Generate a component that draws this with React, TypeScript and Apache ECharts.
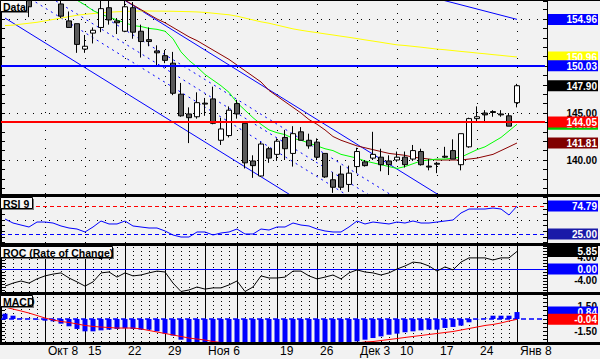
import React, { useEffect, useRef } from 'react';
import * as echarts from 'echarts';

// ---------- DATA ----------
const dates = ['10-01','10-02','10-03','10-04','10-05','10-08','10-09','10-10','10-11','10-12','10-15','10-16','10-17','10-18','10-19','10-22','10-23','10-24','10-25','10-26','10-29','10-30','10-31','11-01','11-02','11-06','11-07','11-08','11-09','11-12','11-13','11-14','11-15','11-16','11-19','11-20','11-21','11-22','11-23','11-26','11-27','11-28','11-29','11-30','12-03','12-04','12-05','12-06','12-07','12-10','12-11','12-12','12-13','12-14','12-17','12-18','12-19','12-20','12-21','12-24','12-25','12-26','12-27','12-28','01-08'];
const padCats = ['p1', 'p2', 'p3'];

const open = [157.4,158.2,158.9,158.3,157.6,158.4,159.1,156.6,154.8,154.5, 151.8,153.5,154.1,156.2,154.8,153.7,156.2,153.7,152.8,151.6, 151.1,150.3,147.0,144.9,144.6,146.05,146.5,142.1,142.6,146.0, 143.9,139.9,138.3,141.2,140.6,142.4,140.7,143.0,142.1,141.9, 140.7,137.9,138.5,137.4,139.3,139.8,140.2,140.3,139.9,140.0, 140.3,140.1,140.9,139.35,139.65,140.4,141.0,139.5,141.4,144.4, 145.0,145.15,144.9,144.7,146.1];
const close = [158.2,158.9,158.4,156.3,158.4,159.2,157.9,155.3,154.1,152.3, 152.1,153.8,156.1,154.9,154.6,156.3,153.6,152.6,152.6,151.4, 150.6,147.1,144.7,144.5,146.1,145.95,143.9,143.3,145.3,144.9, 139.7,139.4,141.7,140.2,142.0,141.2,142.8,142.1,141.5,140.3, 138.2,137.1,137.1,138.6,140.9,139.4,140.6,139.5,139.5,140.3, 139.5,141.0,139.5,139.25,139.55,140.3,140.1,142.8,144.4,144.6, 144.8,145.05,144.8,143.6,147.9];
const low = [157.1,157.8,157.9,155.2,157.2,158.0,157.4,155.1,154.1,151.4, 151.4,152.4,153.6,154.4,153.4,153.6,152.9,150.9,152.1,150.1, 150.3,146.9,144.6,141.8,144.4,144.7,143.8,141.6,142.4,144.4, 139.1,138.1,138.2,139.7,139.9,140.0,139.3,142.1,141.2,140.0, 138.1,136.5,136.8,136.6,138.6,139.3,140.0,138.8,138.4,139.8, 139.2,139.9,139.4,138.9,138.6,140.2,140.1,138.9,141.3,144.1, 144.0,144.6,144.6,143.6,145.6];
const high = [158.8,159.4,159.6,158.6,158.9,159.8,159.5,157.3,155.8,154.5, 153.3,154.1,157.2,157.3,155.1,157.3,156.8,154.4,154.1,152.2, 151.7,151.5,148.2,145.6,147.2,146.6,147.8,144.5,145.7,146.4, 143.9,140.5,141.9,141.4,142.3,143.2,143.6,143.5,142.8,142.3, 140.7,138.7,139.4,139.4,141.3,140.0,143.0,141.2,140.5,140.9, 140.9,141.6,141.2,140.1,139.8,141.4,142.2,142.8,144.5,145.7, 145.3,145.3,145.3,145.0,148.1];

const maYellow = [154.3,154.35,154.45,154.55,154.65,154.8,154.95,155.1,155.25,155.4, 155.5,155.58,155.65,155.72,155.77,155.8,155.83,155.85,155.85,155.84, 155.83,155.82,155.8,155.78,155.75,155.7,155.62,155.53,155.45,155.3, 155.1,154.9,154.7,154.55,154.35,154.15,153.95,153.8,153.67,153.55, 153.42,153.3,153.17,153.05,152.92,152.78,152.65,152.52,152.38,152.25, 152.18,152.09,152.0,151.9,151.8,151.73,151.64,151.55,151.47,151.38, 151.3,151.21,151.13,151.04,150.96];
const maGreen = [null,null,null,null,null,null,null,null,157.5,157.0, 156.5,155.9,155.5,155.2,154.9,154.6,154.3,154.2,154.0,153.9, 153.7,152.9,151.5,150.6,149.9,149.1,148.5,147.9,147.2,146.1, 145.3,144.5,143.8,143.2,142.9,142.7,142.3,142.1,141.8,141.5, 141.2,141.0,140.6,140.4,140.2,139.9,139.7,139.5,139.3,139.1, 139.3,139.6,139.9,140.0,140.1,140.1,140.2,140.3,140.7,141.1, 141.4,141.9,142.4,143.1,143.8];
const maRed = [null,null,null,null,null,null,null,null,null,null, null,null,null,157.9,157.5,157.0,156.5,156.0,155.5,155.0, 154.6,154.1,153.6,153.1,152.7,152.2,151.7,151.2,150.7,150.1, 149.5,148.9,148.3,147.4,146.8,146.2,145.6,145.0,144.3,143.8, 143.2,142.5,142.1,141.8,141.5,141.3,141.1,140.9,140.7,140.6, 140.5,140.3,140.2,140.1,140.0,140.0,140.0,140.0,140.1,140.2, 140.4,140.6,141.0,141.4,141.81];

// regression channel (endpoints in [index, price]) and inner dashed fractions
const channelUpper = [[0, 164.88], [64, 131.12]];
const channelLower = [[0, 155.10], [64, 121.33]];
const channelInner = [0.32, 0.47, 0.62];
const longLine = [[50, 158.05], [64, 154.96]];
const hLineBlue = 150.03;
const hLineRed = 144.05;
const priceRows = [155, 150, 145, 140];

const rsi = [51.8,44.6,41.0,37.5,46.4,46.4,44.6,39.3,35.7,33.9, 28.6,37.5,48.2,42.9,42.9,48.2,39.3,37.5,35.7,35.7, 30.4,23.2,19.6,19.6,28.6,28.6,23.2,26.8,28.6,33.9, 25.0,25.0,33.9,32.1,37.5,37.5,44.6,41.0,39.3,33.9, 30.4,28.6,28.6,37.5,48.2,42.9,46.4,44.6,42.9,46.4, 44.6,48.2,44.6,44.6,46.4,48.2,50.0,62.5,69.6,69.6, 69.6,71.4,69.6,58.9,74.79];
const rsiHigh = 75, rsiLow = 25, rsiMid = 50;

const roc = [-5.7,-4.7,-4.0,-4.7,-3.3,-2.3,-1.7,-1.3,-3.0,-4.3, -5.7,-4.3,-1.3,-1.0,-2.7,-1.3,-2.3,-2.0,-1.3,-0.7, -1.0,-4.7,-7.5,-7.0,-6.0,-6.7,-6.3,-6.3,-5.3,-4.0, -7.5,-6.0,-2.3,-3.0,-3.0,-2.7,-0.7,-0.7,-2.3,-3.3, -2.7,-2.0,-3.3,-1.3,-0.3,-1.0,-1.3,-2.0,-1.3,0.0, 1.0,2.3,2.0,1.0,-0.7,0.7,-0.3,2.3,3.7,3.7, 3.7,3.0,3.7,3.7,5.85];

const macdHist = [0.64,0.4,0.05,0.02,-0.05,-0.2,-0.28,-0.56,-0.88,-1.2, -1.49,-1.49,-1.37,-1.29,-1.2,-1.12,-1.2,-1.29,-1.29,-1.49, -1.77,-2.0,-2.5,-3.1,-3.3,-3.5,-3.6,-3.7,-3.8,-3.9, -4.0,-4.0,-3.9,-3.9,-3.8,-3.7,-3.6,-3.5,-3.4,-3.3, -3.2,-3.1,-3.0,-3.0,-2.7,-2.5,-2.3,-2.1,-1.9,-1.77, -1.6,-1.49,-1.37,-1.29,-1.29,-1.08,-0.96,-0.8,-0.4,-0.04, 0.04,0.4,0.4,0.4,0.84];
const macdLine = [1.45,1.2,0.97,0.72,0.42,0.12,-0.12,-0.3,-0.42,-0.6, -0.78,-0.9,-0.97,-1.03,-1.09,-1.09,-1.09,-1.2,-1.39,-1.57, -1.75,-1.93,-2.11,-2.3,-2.42,-2.54,-2.72,-2.84,-2.9,-3.0, -3.1,-3.2,-3.3,-3.35,-3.4,-3.4,-3.4,-3.35,-3.3,-3.25, -3.15,-3.1,-3.0,-2.95,-2.9,-2.78,-2.72,-2.6,-2.48,-2.36, -2.23,-2.11,-1.99,-1.87,-1.75,-1.63,-1.51,-1.33,-1.15,-0.97, -0.78,-0.66,-0.48,-0.24,-0.04];

const tickIdx = [5, 10, 15, 20, 25, 34, 39, 44, 49, 54, 59, 64];
const tickText = ['Окт 8', '15', '22', '29', 'Ноя 6', '19', '26', 'Дек 3', '10', '17', '24', 'Янв 8'];
const weekIdx = [5, 10, 15, 20, 25, 29, 34, 39, 44, 49, 54, 59, 64];

const plainMain = [155, 150, 145, 140];
const plainRoc = [4, 0, -4];
const plainMacd = [1.5, 0, -1.5];

// ---------- LAYOUT ----------
const gridLeft = 1;
const gridWidth = 544;
const gridTop = [1, 197, 246, 295];
const gridH = [193, 46, 46, 47];
const yRange = [[136.383, 156.915], [8.93, 91.07], [-7.667, 7.667], [-2.778, 2.899]];
const yStep = [1, 10, 1, 0.5];

const FONT = '"Liberation Sans", Arial, sans-serif';

function buildOption() {
  const cats = [...dates, ...padCats];
  const nulls = dates.map(() => null);
  const dayIdx = dates.map((_, i) => i).filter((i) => !weekIdx.includes(i));

  const xAxis = gridTop.map((_, k) => ({
    type: 'category',
    gridIndex: k,
    data: cats,
    boundaryGap: true,
    axisLine: { show: false },
    splitLine: { show: false },
    axisTick: k === 3 ? {
      show: true,
      alignWithLabel: true,
      interval: (i: number) => tickIdx.includes(i),
      length: 16,
      lineStyle: { color: '#000', width: 1 },
    } : { show: false },
    axisLabel: k === 3 ? {
      show: true,
      interval: (i: number) => tickIdx.includes(i),
      formatter: (_v: string, i: number) => {
        const p = tickIdx.indexOf(i);
        return p >= 0 ? tickText[p] : '';
      },
      align: 'left',
      padding: [0, 0, 0, 3],
      margin: 3,
      color: '#000',
      fontSize: 12,
      fontFamily: FONT,
    } : { show: false },
  }));

  const yAxis: any[] = [];
  ['right', 'left'].forEach((pos) => {
    gridTop.forEach((_, k) => {
      yAxis.push({
        type: 'value',
        gridIndex: k,
        position: pos,
        offset: pos === 'right' ? 2 : 0,
        min: yRange[k][0],
        max: yRange[k][1],
        minInterval: yStep[k],
        maxInterval: yStep[k],
        axisLine: { show: true, onZero: false, lineStyle: { color: '#000', width: 1 } },
        axisTick: { show: true, inside: true, length: 4, lineStyle: { color: '#000', width: 1 } },
        axisLabel: { show: false },
        splitLine: { show: false },
      });
    });
  });

  const ml = (data: any[], z = 1) => ({
    symbol: ['none', 'none'],
    silent: true,
    label: { show: false },
    emphasis: { disabled: true },
    data,
    z,
  });
  const vLines = (idx: number[], style: any) => idx.map((i) => ({ xAxis: i, lineStyle: style }));
  const hLines = (vals: number[], style: any) => vals.map((v) => ({ yAxis: v, lineStyle: style }));

  const dotV = { color: '#000', width: 1, type: [1, 8] };
  const dotH = { color: '#000', width: 1, type: [1, 7] };
  const solidV = { color: '#000', width: 1, type: 'solid' };
  const dayDot = { color: '#000', width: 1, type: [1, 3] };

  const lineS = (data: any[], color: string, xi: number, yi: number, z = 2, type: any = 'solid', width = 1) => ({
    type: 'line',
    xAxisIndex: xi,
    yAxisIndex: yi,
    data,
    showSymbol: false,
    symbol: 'none',
    silent: true,
    z,
    lineStyle: { color, width, type },
  });

  const inner = channelInner.map((f) => [
    [channelUpper[0][0], channelUpper[0][1] - f * (channelUpper[0][1] - channelLower[0][1])],
    [channelUpper[1][0], channelUpper[1][1] - f * (channelUpper[1][1] - channelLower[1][1])],
  ]);

  const series: any[] = [
    // main grid helpers
    {
      type: 'line', xAxisIndex: 0, yAxisIndex: 0, data: nulls, z: 1, silent: true,
      markLine: ml([...vLines(weekIdx, dotV), ...hLines(priceRows, dotH)]),
    },
    lineS(channelUpper, '#0000ff', 0, 0),
    lineS(channelLower, '#0000ff', 0, 0),
    ...inner.map((d) => lineS(d, '#0000ff', 0, 0, 2, [2, 4])),
    lineS(longLine, '#0000ff', 0, 0),
    lineS(maYellow, '#ffff00', 0, 0),
    lineS(maRed, '#8b0000', 0, 0),
    lineS(maGreen, '#00ff00', 0, 0),
    {
      type: 'candlestick', xAxisIndex: 0, yAxisIndex: 0, z: 3, silent: true,
      barWidth: 5,
      data: dates.map((_, i) => [open[i], close[i], low[i], high[i]]),
      itemStyle: { color: '#ffffff', color0: '#5a5a5a', borderColor: '#000000', borderColor0: '#000000', borderWidth: 1 },
    },
    {
      type: 'line', xAxisIndex: 0, yAxisIndex: 0, data: nulls, z: 4, silent: true,
      markLine: ml([
        { yAxis: hLineBlue, lineStyle: { color: '#0000ff', width: 2, type: 'solid' } },
        { yAxis: hLineRed, lineStyle: { color: '#ff0000', width: 2, type: 'solid' } },
      ], 4),
    },
    // RSI
    {
      type: 'line', xAxisIndex: 1, yAxisIndex: 1, data: nulls, z: 1, silent: true,
      markLine: ml([
        ...vLines(weekIdx, { color: '#000', width: 1, type: [1, 4] }),
        ...hLines([rsiMid], dotH),
        { yAxis: rsiHigh, lineStyle: { color: '#ff0000', width: 1, type: [4, 3] } },
        { yAxis: rsiLow, lineStyle: { color: '#0000ff', width: 1, type: [4, 3] } },
      ]),
    },
    lineS(rsi, '#0000ff', 1, 1),
    // ROC
    {
      type: 'line', xAxisIndex: 2, yAxisIndex: 2, data: nulls, z: 1, silent: true,
      markLine: ml([
        ...vLines(dayIdx, dayDot),
        ...vLines(weekIdx, solidV),
        { yAxis: 0, lineStyle: { color: '#0000ff', width: 1, type: 'solid' } },
      ]),
    },
    lineS(roc, '#000000', 2, 2),
    // MACD
    {
      type: 'line', xAxisIndex: 3, yAxisIndex: 3, data: nulls, z: 1, silent: true,
      markLine: ml([
        ...vLines(dayIdx, dayDot),
        ...vLines(weekIdx, solidV),
        { yAxis: 0, lineStyle: { color: '#0000ff', width: 1.5, type: [5, 3] } },
      ]),
    },
    {
      type: 'bar', xAxisIndex: 3, yAxisIndex: 3, data: macdHist, barWidth: 5, z: 2, silent: true,
      itemStyle: { color: '#0000ff' },
    },
    lineS(macdLine, '#ff0000', 3, 3, 3),
  ];

  return {
    animation: false,
    backgroundColor: '#f2f2f2',
    grid: gridTop.map((t, k) => ({ left: gridLeft, width: gridWidth, top: t, height: gridH[k], containLabel: false })),
    xAxis,
    yAxis,
    series,
  };
}

function buildGraphics(chart: any) {
  const y = (ai: number, v: number) => chart.convertToPixel({ yAxisIndex: ai }, v) as number;
  const els: any[] = [];
  let z = 100;
  const rect = (x: number, yy: number, w: number, h: number, fill: string, stroke?: string) => {
    els.push({
      type: 'rect', z: z++, silent: true,
      shape: { x, y: yy, width: w, height: h },
      style: stroke ? { fill, stroke, lineWidth: 1 } : { fill },
    });
  };
  const text = (x: number, yy: number, t: string, font: string, fill: string, align = 'left') => {
    els.push({
      type: 'text', z: z++, silent: true, x, y: yy,
      style: { text: t, font, fill, align, textAlign: align, verticalAlign: 'middle', textVerticalAlign: 'middle' },
    });
  };
  const labelFont = `bold 10px ${FONT}`;
  const plain = (ai: number, v: number) => text(597, y(ai, v), v.toFixed(2), labelFont, '#000', 'right');
  const box = (ai: number, v: number, bg: string) => {
    const py = y(ai, v);
    rect(548, py - 5.5, 50, 11, bg);
    text(597, py + 0.5, v.toFixed(2), labelFont, '#ffffff', 'right');
  };

  // separators and borders
  rect(0, 0, 600, 1, '#000');
  rect(0, 194, 600, 3, '#000');
  rect(0, 243, 600, 3, '#000');
  rect(0, 292, 600, 3, '#000');
  rect(0, 342, 600, 3, '#000');
  rect(0, 0, 1, 344, '#000');

  // right labels: main
  plainMain.forEach((v) => plain(0, v));
  box(0, longLine[1][1], '#0000ff');
  box(0, maYellow[maYellow.length - 1] as number, '#ffff00');
  box(0, hLineBlue, '#0000ff');
  box(0, close[close.length - 1], '#000000');
  box(0, maGreen[maGreen.length - 1] as number, '#00cc00');
  box(0, hLineRed, '#ff0000');
  box(0, maRed[maRed.length - 1] as number, '#800000');
  // RSI
  box(1, rsi[rsi.length - 1], '#0000ff');
  box(1, rsiLow, '#1a1aa8');
  // ROC
  plainRoc.forEach((v) => plain(2, v));
  box(2, roc[roc.length - 1], '#000000');
  box(2, 0, '#0000ff');
  // MACD
  plainMacd.forEach((v) => plain(3, v));
  box(3, macdHist[macdHist.length - 1], '#0000ff');
  box(3, macdLine[macdLine.length - 1], '#ff0000');

  // panel titles
  const title = (x: number, yy: number, w: number, h: number, t: string) => {
    rect(x + 2, yy + 2, w, h, '#7a7a7a');
    rect(x + 0.5, yy + 0.5, w, h, '#f8f8f8', '#000');
    text(x + 3, yy + h / 2 + 1, t, `bold 10.5px ${FONT}`, '#000');
  };
  title(0, 0, 26, 11, 'Data');
  title(0, 197, 32, 11, 'RSI 9');
  title(0, 246, 112, 11, 'ROC (Rate of Change)');
  title(0, 295, 32, 11, 'MACD');
  return els;
}

export default function App() {
  const ref = useRef<HTMLDivElement>(null);
  useEffect(() => {
    if (!ref.current) return;
    const chart = echarts.init(ref.current, null, { renderer: 'svg' });
    chart.setOption(buildOption() as any);
    chart.setOption({ graphic: { elements: buildGraphics(chart) } } as any);
    return () => chart.dispose();
  }, []);
  return <div ref={ref} style={{ position: 'fixed', left: 0, top: 0, width: 600, height: 359 }} />;
}
